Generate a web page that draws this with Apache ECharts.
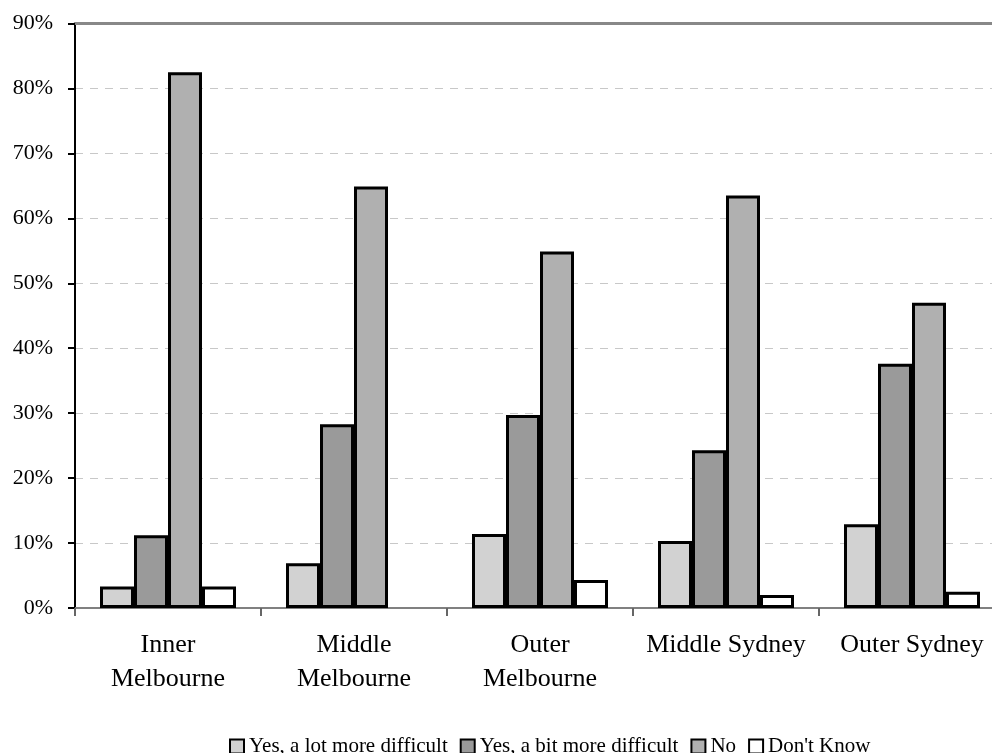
<!DOCTYPE html>
<html>
<head>
<meta charset="utf-8">
<script src="https://cdn.jsdelivr.net/npm/echarts@6/dist/echarts.min.js"></script>
<style>
html,body{margin:0;padding:0;background:#fff;}
#chart{width:992px;height:753px;}
</style>
</head>
<body>
<div id="chart"></div>
<script>
var categories = ["Inner\nMelbourne", "Middle\nMelbourne", "Outer\nMelbourne", "Middle Sydney", "Outer Sydney"];
var seriesNames = ["Yes, a lot more difficult", "Yes, a bit more difficult", "No", "Don't Know"];
var lotMore = [3.3, 6.9, 11.4, 10.3, 12.9];
var bitMore = [11.2, 28.3, 29.7, 24.3, 37.6];
var noVals = [82.5, 64.9, 54.9, 63.5, 47.0];
var dontKnow = [3.3, 0, 4.3, 2.0, 2.5];
var yTicks = [0, 10, 20, 30, 40, 50, 60, 70, 80, 90];

var FONT = "'Liberation Serif', 'Times New Roman', serif";
var colors = ["#d2d2d2", "#9a9a9a", "#b0b0b0", "#ffffff"];
var values = [lotMore, bitMore, noVals, dontKnow];

var chart = echarts.init(document.getElementById('chart'), null, {renderer: 'canvas'});
var series = seriesNames.map(function (name, i) {
  return {
    name: name,
    type: 'bar',
    barWidth: 34,
    barGap: '0%',
    data: values[i].map(function (v) { return v === 0 ? '-' : v; }),
    itemStyle: {color: colors[i], borderColor: '#000', borderWidth: 3},
    emphasis: {disabled: true},
    animation: false
  };
});

chart.setOption({
  animation: false,
  backgroundColor: '#fff',
  textStyle: {fontFamily: FONT, color: '#000'},
  grid: {left: 75, width: 930, top: 23.5, bottom: 145, containLabel: false, outerBoundsMode: 'none'},
  legend: {
    data: seriesNames,
    top: 731,
    left: 224,
    itemWidth: 14,
    itemHeight: 14,
    itemGap: 12,
    icon: 'rect',
    textStyle: {fontFamily: FONT, fontSize: 21, color: '#000'},
    itemStyle: {borderColor: '#000', borderWidth: 2}
  },
  xAxis: [{
    type: 'category',
    data: categories,
    position: 'bottom',
    axisLine: {lineStyle: {color: '#808080', width: 2}},
    axisTick: {show: true, length: 8, lineStyle: {color: '#666', width: 2}},
    axisLabel: {interval: 0, fontFamily: FONT, fontSize: 26, color: '#000', lineHeight: 34, margin: 20}
  }, {
    type: 'category',
    data: categories,
    position: 'top',
    axisLine: {lineStyle: {color: '#888', width: 3}},
    axisTick: {show: false},
    axisLabel: {show: false}
  }],
  yAxis: {
    type: 'value',
    min: yTicks[0],
    max: yTicks[yTicks.length - 1],
    interval: 10,
    axisLine: {show: true, lineStyle: {color: '#000', width: 2}},
    axisTick: {show: true, length: 7, lineStyle: {color: '#000', width: 2}},
    axisLabel: {formatter: '{value}%', fontFamily: FONT, fontSize: 22, color: '#000', margin: 22},
    splitLine: {show: true, lineStyle: {color: '#c8c8c8', width: 1, type: [8, 7]}}
  },
  series: series
});
</script>
</body>
</html>
